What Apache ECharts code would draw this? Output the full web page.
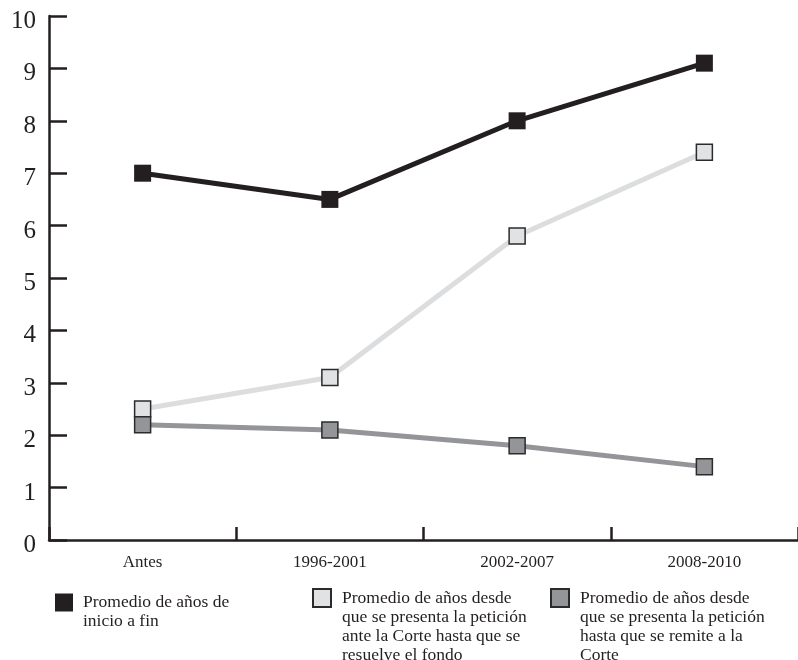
<!DOCTYPE html>
<html>
<head>
<meta charset="utf-8">
<script src="https://cdn.jsdelivr.net/npm/echarts@6/dist/echarts.min.js"></script>
<style>html,body{margin:0;padding:0;background:#fff}#c{width:798px;height:660px}</style>
</head>
<body>
<div id="c"></div>
<script>
const categories = ['Antes', '1996-2001', '2002-2007', '2008-2010'];
const inicioAFin = [7, 6.5, 8, 9.1];
const peticionAFondo = [2.5, 3.1, 5.8, 7.4];
const peticionARemision = [2.2, 2.1, 1.8, 1.4];
const yMin = 0, yMax = 10, yStep = 1;

const seriesNames = [
  'Promedio de años de inicio a fin',
  'Promedio de años desde que se presenta la petición ante la Corte hasta que se resuelve el fondo',
  'Promedio de años desde que se presenta la petición hasta que se remite a la Corte'
];
const legendLines = [
  ['Promedio de años de', 'inicio a fin'],
  ['Promedio de años desde', 'que se presenta la petición', 'ante la Corte hasta que se', 'resuelve el fondo'],
  ['Promedio de años desde', 'que se presenta la petición', 'hasta que se remite a la', 'Corte']
];

const FONT = '"Liberation Serif", "DejaVu Serif", serif';
const INK = '#231f20';
const LH = 19;

function makeLegend(i, left, iconCenterY, padLeft) {
  const n = legendLines[i].length;
  // empty leading lines keep the first text line level with the icon
  const lines = new Array(n - 1).fill(' ').concat(legendLines[i]);
  return {
    data: [seriesNames[i]],
    left: left, top: iconCenterY - (2 * n - 1) * LH / 2, padding: 0,
    orient: 'vertical',
    icon: 'rect', itemWidth: 18, itemHeight: 18,
    selectedMode: false,
    formatter: () => lines.join('\n'),
    textStyle: {
      fontFamily: FONT, fontSize: 17.5, color: INK, lineHeight: LH,
      padding: [0, 0, 0, padLeft]
    }
  };
}

const chart = echarts.init(document.getElementById('c'), null, {renderer: 'canvas'});
chart.setOption({
  animation: false,
  backgroundColor: '#fff',
  grid: {left: 49, top: 16, width: 750, height: 524, containLabel: false},
  legend: [
    makeLegend(0, 55, 602.5, 5),
    makeLegend(1, 312, 598, 6),
    makeLegend(2, 550, 598, 6)
  ],
  xAxis: {
    type: 'category',
    data: categories,
    boundaryGap: true,
    axisLine: {lineStyle: {color: INK, width: 2.5}},
    axisTick: {show: true, inside: true, length: 13, lineStyle: {color: INK, width: 2.5}},
    axisLabel: {fontFamily: FONT, fontSize: 17, color: INK, margin: 14}
  },
  yAxis: {
    type: 'value',
    min: yMin, max: yMax, interval: yStep,
    splitLine: {show: false},
    axisLine: {show: true, lineStyle: {color: INK, width: 2.5}},
    axisTick: {show: true, inside: true, length: 18, lineStyle: {color: INK, width: 2.5}},
    axisLabel: {
      color: INK, margin: 13,
      formatter: '{v|{value}}',
      rich: {v: {fontFamily: FONT, fontSize: 25, color: INK, padding: [11, 0, 0, 0]}}
    }
  },
  series: [
    {
      name: seriesNames[1], type: 'line', data: peticionAFondo, z: 2,
      symbol: 'rect', symbolSize: 16,
      lineStyle: {color: '#dcdddf', width: 5},
      itemStyle: {color: '#e1e2e4', borderColor: '#2b2b2b', borderWidth: 1.5}
    },
    {
      name: seriesNames[2], type: 'line', data: peticionARemision, z: 3,
      symbol: 'rect', symbolSize: 16,
      lineStyle: {color: '#939598', width: 5},
      itemStyle: {color: '#939598', borderColor: '#2b2b2b', borderWidth: 1.5}
    },
    {
      name: seriesNames[0], type: 'line', data: inicioAFin, z: 4,
      symbol: 'rect', symbolSize: 17,
      lineStyle: {color: INK, width: 5},
      itemStyle: {color: INK, borderColor: INK, borderWidth: 0}
    }
  ]
});
</script>
</body>
</html>
